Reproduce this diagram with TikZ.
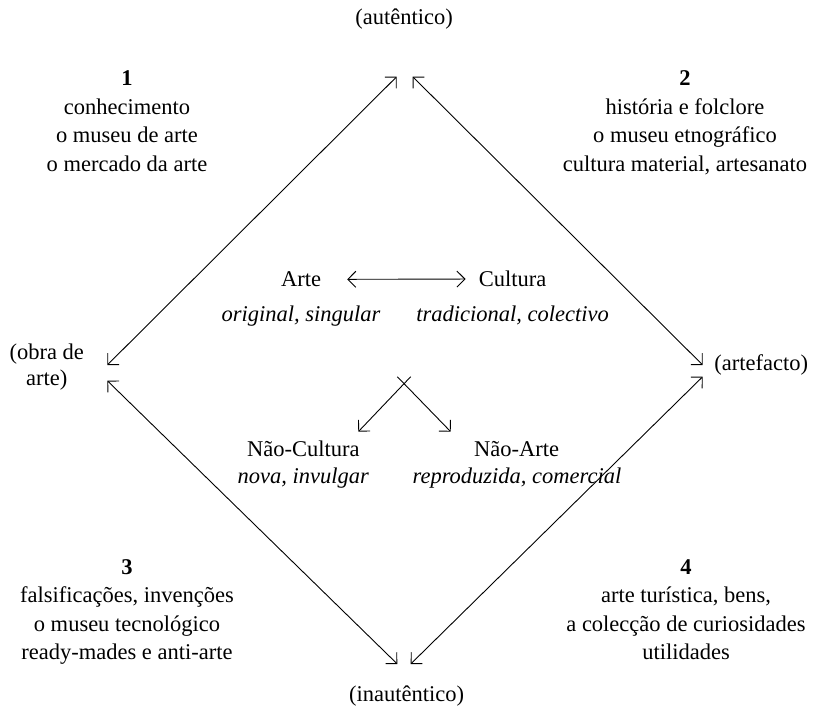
\documentclass[tikz,border=0pt]{standalone}
\usepackage{fontspec}
\setmainfont{Liberation Serif}
\usetikzlibrary{arrows.meta}

\begin{document}
\begin{tikzpicture}[x=1pt, y=-1pt, inner sep=0pt,
        txt/.style = {anchor=base, align=center, font=\fontsize{22.5}{28.4}\selectfont},
        note/.style = {txt, font=\fontsize{22.5}{28.4}\selectfont\itshape},
        twoway/.style = {{Straight Barb[length=8pt,width=16pt]}-{Straight Barb[length=8pt,width=16pt]}, line width=0.9pt},
        oneway/.style = {-{Straight Barb[length=8pt,width=16pt]}, line width=0.9pt}]
            \useasboundingbox (0,0) rectangle (818,714);

            % corners (base = last line)
            \node[txt] (aut) at (404,25) {(autêntico)};
            \node[txt] (inaut) at (406.7,701.7) {(inautêntico)};
            \node[txt, font=\fontsize{22.5}{25.7}\selectfont] (obra) at (46.7,385) {(obra de\\arte)};
            \node[txt] (artef) at (761.3,370) {(artefacto)};

            % quadrants
            \node[txt] (Q1) at (127,171.2) {\textbf{1}\\conhecimento\\o museu de arte\\o mercado da arte};
            \node[txt] (Q2) at (685,171.2) {\textbf{2}\\história e folclore\\o museu etnográfico\\cultura material, artesanato};
            \node[txt] (Q3) at (127,659.7) {\textbf{3}\\falsificações, invenções\\o museu tecnológico\\ready-mades e anti-arte};
            \node[txt] (Q4) at (686,659.7) {\textbf{4}\\arte turística, bens,\\a colecção de curiosidades\\utilidades};

            % centre
            \node[txt] (arte) at (301,286.7) {Arte};
            \node[txt] (cult) at (512.5,286.7) {Cultura};
            \node[note] (arteSub) at (301,321.7) {original, singular};
            \node[note] (cultSub) at (512.5,321.7) {tradicional, colectivo};
            \node[txt] (naoC) at (303.3,456.7) {Não-Cultura};
            \node[txt] (naoA) at (516.7,456.7) {Não-Arte};
            \node[note] (naoCSub) at (303.3,483.3) {nova, invulgar};
            \node[note] (naoASub) at (517,483.3) {reproduzida, comercial};

            % arrow ends
            \coordinate (topL) at (396.7,76.7);
            \coordinate (topR) at (412.7,76.7);
            \coordinate (leftU) at (107.3,365);
            \coordinate (leftD) at (107.3,380.7);
            \coordinate (rightU) at (702.7,365);
            \coordinate (rightD) at (702.7,376.7);
            \coordinate (botL) at (397.3,664);
            \coordinate (botR) at (410.7,664);
            \coordinate (forkL) at (397.3,376.7);
            \coordinate (forkR) at (410.7,376.7);
            \coordinate (tipC) at (358.3,431.7);
            \coordinate (tipA) at (450.7,431.7);

            \path[twoway] (leftU) edge (topL) (topR) edge (rightU);
            \path[twoway] (leftD) edge (botL) (rightD) edge (botR);
            \path[twoway] (arte.east) edge[shorten <=26pt, shorten >=13pt] (cult.west);
            \path[oneway] (forkR) edge (tipC) (forkL) edge (tipA);

        \end{tikzpicture}
\end{document}
